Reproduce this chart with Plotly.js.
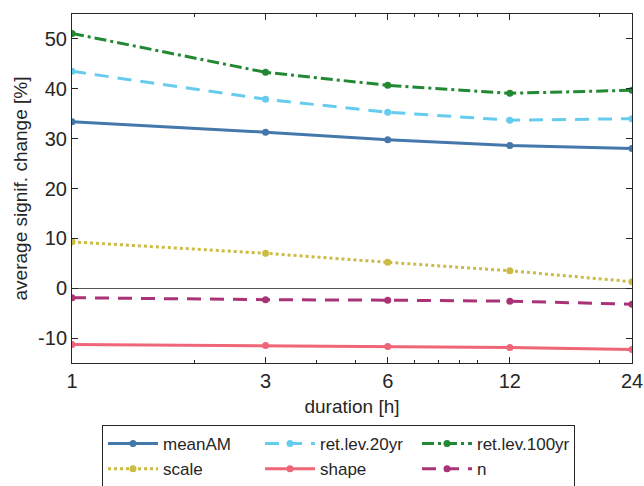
<!DOCTYPE html>
<html>
<head>
<meta charset="utf-8">
<script src="https://cdn.plot.ly/plotly-3.0.1.min.js"></script>
<style>html,body{margin:0;padding:0;background:#fff;}</style>
</head>
<body>
<div id="chart" style="width:644px;height:486px;"></div>
<script>
const durations = [1, 3, 6, 12, 24];
const durationLabels = ['1', '3', '6', '12', '24'];
const yTickVals = [-10, 0, 10, 20, 30, 40, 50];
const yTickLabels = ['-10', '0', '10', '20', '30', '40', '50'];
const meanAM = [33.4, 31.3, 29.8, 28.6, 28.0];
const retLev20yr = [43.5, 37.9, 35.3, 33.7, 34.0];
const retLev100yr = [51.1, 43.3, 40.7, 39.1, 39.7];
const scale = [9.3, 7.0, 5.2, 3.5, 1.3];
const shape = [-11.3, -11.5, -11.7, -11.9, -12.3];
const nParam = [-1.9, -2.3, -2.4, -2.6, -3.2];
const seriesNames = ['meanAM', 'ret.lev.20yr', 'ret.lev.100yr', 'scale', 'shape', 'n'];

const seriesData = [meanAM, retLev20yr, retLev100yr, scale, shape, nParam];
const colors = ['#4477AA', '#66CCEE', '#228833', '#CCBB44', '#EE6677', '#AA3377'];
const dashes = ['solid', '14px,9px', '12px,4px,3px,4px', '3px,3px', 'solid', '14px,9px'];

const traces = seriesData.map((ys, i) => ({
  x: durations,
  y: ys,
  name: seriesNames[i],
  type: 'scatter',
  mode: 'lines+markers',
  line: {color: colors[i], width: 3, dash: dashes[i]},
  marker: {color: colors[i], size: 7, symbol: 'circle'}
}));

const fontFam = 'Liberation Sans, Arial, Helvetica, sans-serif';
const layout = {
  width: 644, height: 486,
  margin: {l: 72, r: 12, t: 14, b: 123, autoexpand: false},
  paper_bgcolor: '#fff', plot_bgcolor: '#fff',
  font: {family: fontFam, size: 19, color: '#262626'},
  showlegend: true,
  xaxis: {
    type: 'log',
    range: [0, Math.log10(24)],
    tickmode: 'array',
    tickvals: durations,
    ticktext: durationLabels,
    ticks: 'inside', ticklen: 6, tickcolor: '#262626',
    showline: true, linecolor: '#262626', linewidth: 1, mirror: 'ticks',
    showgrid: false, zeroline: false, automargin: false,
    tickfont: {size: 20},
    minor: {tickvals: [2, 4, 5, 7, 8, 9, 10, 20], ticks: 'inside', ticklen: 3, tickcolor: '#262626', showgrid: false},
    title: {text: 'duration [h]', font: {size: 19}, standoff: 8}
  },
  yaxis: {
    range: [-15, 55],
    tickmode: 'array', tickvals: yTickVals, ticktext: yTickLabels,
    ticks: 'inside', ticklen: 6, tickcolor: '#262626',
    showline: true, linecolor: '#262626', linewidth: 1, mirror: 'ticks',
    showgrid: false, automargin: false,
    zeroline: true, zerolinecolor: '#555', zerolinewidth: 1,
    tickfont: {size: 20},
    title: {text: 'average signif. change [%]', font: {size: 19}, standoff: 5}
  },
  legend: {
    orientation: 'h',
    xref: 'container', yref: 'container',
    x: 102 / 644, xanchor: 'left',
    y: 1 - 425 / 486, yanchor: 'top',
    bordercolor: '#262626', borderwidth: 1,
    font: {size: 17},
    entrywidth: 92,
    tracegroupgap: 0,
    itemwidth: 50
  }
};

Plotly.newPlot('chart', traces, layout, {displayModeBar: false, staticPlot: true});
</script>
</body>
</html>
